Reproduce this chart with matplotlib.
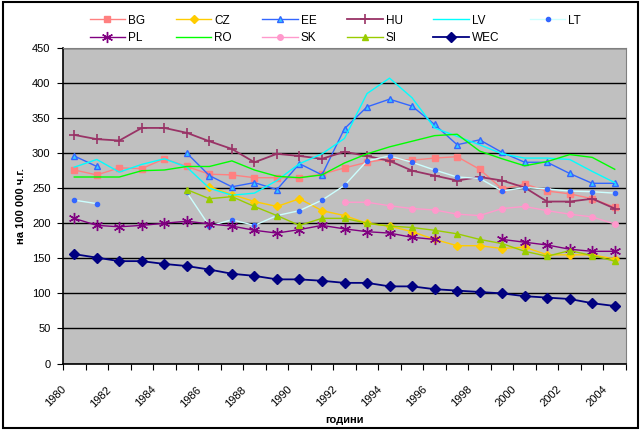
import matplotlib
matplotlib.use("Agg")
import matplotlib.pyplot as plt
from matplotlib.transforms import ScaledTranslation
import numpy as np

nan = np.nan

# години 1980-2004
godini = list(range(1980, 2005))

bg = [276, 269, 279, 278, 292, 281, 270, 269, 265, 265, 265, 270, 279, 287, 292, 290, 293, 295, 277, 249, 256, 246, 242, 235, 223]
cz = [nan, nan, nan, nan, nan, nan, 252, 241, 231, 224, 235, 218, 211, 200, 196, 188, 177, 168, 168, 164, 166, 155, 155, 155, 149]
ee = [296, 281, nan, nan, nan, 300, 268, 252, 258, 248, 285, 269, 335, 366, 377, 367, 341, 312, 319, 301, 287, 287, 271, 257, 257]
hu = [326, 320, 318, 336, 336, 329, 317, 306, 287, 299, 296, 292, 302, 296, 289, 275, 268, 261, 266, 261, 251, 231, 231, 235, 221]
lv = [280, 291, 273, 284, 292, 280, 250, 240, 243, 261, 285, 299, 321, 385, 407, 379, 336, 324, 312, 299, 293, 293, 291, 274, 258]
lt = [233, 228, nan, nan, nan, 244, 196, 205, 197, 211, 218, 233, 254, 289, 296, 287, 276, 266, 264, 246, 251, 249, 246, 245, 243]
pl = [207, 197, 195, 197, 200, 203, 199, 196, 190, 186, 191, 197, 192, 188, 186, 180, 177, nan, nan, 177, 173, 169, 163, 160, 160]
ro = [266, 266, 266, 275, 276, 281, 281, 289, 276, 267, 265, 269, 286, 299, 309, 317, 325, 327, 303, 292, 282, 288, 298, 294, 277]
sk = [nan, nan, nan, nan, nan, nan, nan, nan, nan, nan, nan, nan, 230, 230, 225, 221, 219, 213, 211, 221, 224, 218, 213, 209, 199]
si = [nan, nan, nan, nan, nan, 248, 235, 238, 224, 211, 197, 207, 207, 200, 196, 194, 190, 185, 177, 171, 160, 153, 161, 154, 146]
wec = [156, 151, 146, 146, 142, 139, 134, 128, 125, 120, 120, 118, 115, 115, 110, 110, 106, 104, 102, 100, 96, 94, 92, 86, 82]

plt.rcParams['font.family'] = ['Liberation Sans', 'DejaVu Sans']
plt.rcParams['font.size'] = 8

fig = plt.figure(figsize=(6.41, 4.30), dpi=100)
fig.patch.set_facecolor('white')
fig.patches.append(plt.Rectangle((0.004, 0.004), 0.992, 0.992, transform=fig.transFigure,
                                 fill=False, edgecolor='black', linewidth=1.5))

ax = fig.add_axes([63 / 641, 1 - 363.5 / 430, 563 / 641, 315.5 / 430])
ax.set_facecolor('#C0C0C0')

x = np.arange(len(godini))
lw = 1.0

ax.plot(x, bg, color='#FF8080', marker='s', markersize=4, lw=lw, label='BG')
ax.plot(x, cz, color='#FFCC00', marker='D', markersize=4, lw=lw, label='CZ')
ax.plot(x, ee, color='#3366FF', marker='^', markersize=5, markerfacecolor='#33CCFF',
        markeredgecolor='#3366FF', lw=lw, label='EE')
ax.plot(x, hu, color='#993366', marker='+', markersize=7, markeredgewidth=1.2, lw=1.3, label='HU')
ax.plot(x, lv, color='#00FFFF', lw=lw, label='LV')
ax.plot(x, lt, color='#CCFFFF', marker='o', markersize=3, markerfacecolor='#3366FF',
        markeredgecolor='#3366FF', lw=lw, label='LT')
ax.plot(x, pl, color='#800080', marker=(6, 2, 0), markersize=8, markeredgewidth=1.0, lw=lw, label='PL')
ax.plot(x, ro, color='#00FF00', lw=lw, label='RO')
ax.plot(x, sk, color='#FF99CC', marker='o', markersize=4, lw=lw, label='SK')
ax.plot(x, si, color='#99CC00', marker='^', markersize=5, lw=lw, label='SI')
ax.plot(x, wec, color='#000080', marker='D', markersize=5.5, lw=1.3, label='WEC')

# оски
ax.set_ylim(0, 450)
ax.set_yticks(np.arange(0, 451, 50))
ax.yaxis.grid(True, color='black', linewidth=1.0)
ax.set_axisbelow(True)
ax.set_xlim(-0.5, len(godini) - 0.5)
ax.set_xticks(np.arange(-0.5, len(godini), 1.0))
ax.set_xticklabels([])
ax.set_xticks(x[::2], minor=True)
ax.set_xticklabels([str(g) for g in godini[::2]], minor=True, rotation=45, ha='right', va='top',
                   rotation_mode='anchor')
ax.tick_params(axis='x', which='major', direction='out', length=4, color='black')
ax.tick_params(axis='x', which='minor', length=0, pad=15)
ax.tick_params(axis='y', direction='out', length=4, pad=5)
pomestvane = ScaledTranslation(-0.13, 0, fig.dpi_scale_trans)
for lbl in ax.get_xticklabels(minor=True):
    lbl.set_transform(lbl.get_transform() + pomestvane)
for s in ['top', 'right']:
    ax.spines[s].set_color('#808080')
for s in ['left', 'bottom']:
    ax.spines[s].set_color('black')
    ax.spines[s].set_linewidth(1.2)

ax.set_ylabel('на 100 000 ч.г.', fontweight='bold', labelpad=4)
ax.set_xlabel('години', fontweight='bold', labelpad=4)

# легендата: ред по ред
handles, labels = ax.get_legend_handles_labels()
red1 = list(range(6))
red2 = list(range(6, 11))
red = []
for i in range(6):
    red.append(red1[i])
    if i < len(red2):
        red.append(red2[i])
fig.legend([handles[i] for i in red], [labels[i] for i in red], loc='upper left',
           bbox_to_anchor=(79 / 641, 1 - 4 / 430), ncol=6, frameon=False,
           handlelength=3.0, columnspacing=2.6, handletextpad=0.25, labelspacing=0.45,
           fontsize=8.5)

plt.savefig('out.png', dpi=100)
